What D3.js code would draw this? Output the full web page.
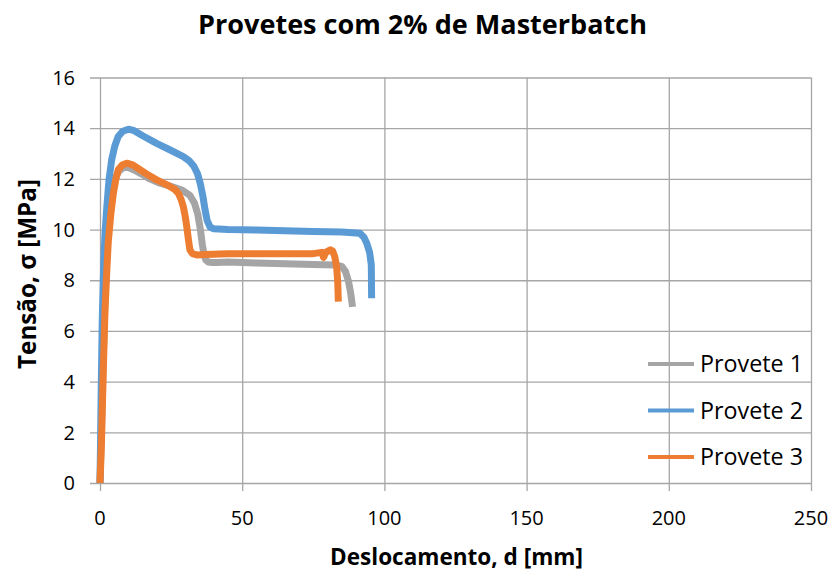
<!DOCTYPE html>
<html>
<head>
<meta charset="utf-8">
<script src="https://cdn.jsdelivr.net/npm/d3@7"></script>
<style>
  html, body { margin: 0; padding: 0; background: #fff; }
  svg text { font-family: "Open Sans", Lato, sans-serif; fill: #000; }
</style>
</head>
<body>
<svg id="chart" width="837" height="572"></svg>
<script>
// Tensile curves: displacement d [mm] vs stress σ [MPa]
const provete1X = [0, 0.6, 1.2, 1.8, 2.5, 3.2, 4.2, 5.3, 6.6, 8.2, 10, 12, 14.5, 17.5, 20.5, 23.5, 26.5, 29, 31.6, 33.2, 34.4, 35.3, 36, 36.6, 37.2, 38, 39.5, 41, 45, 55, 65, 75, 83, 85, 86.3, 87.4, 88.2, 88.8];
const provete1Y = [0, 2.5, 5.2, 7.4, 9.2, 10.6, 11.5, 12.0, 12.3, 12.45, 12.45, 12.35, 12.2, 12.0, 11.85, 11.75, 11.65, 11.55, 11.35, 11.05, 10.6, 10.0, 9.4, 9.0, 8.8, 8.72, 8.7, 8.7, 8.72, 8.68, 8.65, 8.62, 8.6, 8.55, 8.35, 7.95, 7.45, 6.95];

const provete2X = [0, 0.4, 0.8, 1.3, 1.8, 2.4, 3.2, 4.1, 5.2, 6.4, 8, 10, 12, 15, 19.9, 24.5, 29.3, 31.5, 33, 34.3, 35.3, 36.2, 36.9, 37.7, 38.7, 40, 45, 55, 65, 75, 85, 91.4, 92.8, 93.8, 94.8, 95.4, 95.5];
const provete2Y = [0, 3.5, 6.5, 8.6, 9.9, 10.9, 12.0, 12.75, 13.3, 13.67, 13.88, 13.96, 13.9, 13.7, 13.4, 13.15, 12.88, 12.7, 12.5, 12.2, 11.8, 11.3, 10.8, 10.35, 10.1, 10.03, 10.0, 9.98, 9.95, 9.92, 9.9, 9.85, 9.7, 9.46, 9.1, 8.6, 7.29];

const provete3X = [0, 0.5, 1.1, 1.76, 2.4, 2.9, 3.8, 4.7, 5.6, 6.4, 7.8, 9.4, 11.5, 14.1, 17, 19.9, 22.5, 24.6, 26.3, 27.5, 28.5, 29.3, 30, 30.5, 31.1, 31.6, 32.5, 34, 37, 45, 55, 65, 75, 78, 78.6, 79.4, 81, 81.8, 82.5, 83.2, 83.6, 83.8];
const provete3Y = [0, 1.5, 4.2, 6.8, 8.4, 9.5, 10.6, 11.44, 12.0, 12.36, 12.55, 12.62, 12.55, 12.36, 12.15, 11.96, 11.82, 11.7, 11.58, 11.44, 11.2, 10.9, 10.5, 10.12, 9.6, 9.2, 9.05, 9.0, 9.02, 9.05, 9.05, 9.05, 9.05, 9.1, 8.9, 9.1, 9.2, 9.15, 8.95, 8.54, 7.9, 7.16];

const seriesNames = ["Provete 1", "Provete 2", "Provete 3"];
const seriesColors = ["#a5a5a5", "#5b9bd5", "#ed7d31"];
const xTicks = [0, 50, 100, 150, 200, 250];
const yTicks = [0, 2, 4, 6, 8, 10, 12, 14, 16];

const chartTitle = "Provetes com 2% de Masterbatch";
const xTitle = "Deslocamento, d [mm]";
const yTitle = "Tensão, σ [MPa]";

const series = [
  { name: seriesNames[0], color: seriesColors[0], pts: provete1X.map((x, i) => [x, provete1Y[i]]) },
  { name: seriesNames[1], color: seriesColors[1], pts: provete2X.map((x, i) => [x, provete2Y[i]]) },
  { name: seriesNames[2], color: seriesColors[2], pts: provete3X.map((x, i) => [x, provete3Y[i]]) }
];

const svg = d3.select("#chart");
const plot = { left: 100, right: 811, top: 77.5, bottom: 483 };

const x = d3.scaleLinear().domain([0, 250]).range([plot.left, plot.right]);
const y = d3.scaleLinear().domain([0, 16]).range([plot.bottom, plot.top]);

const gridColor = "#a6a6a6";

// Scale a text's font size so that it spans the given width
function fitWidth(sel, width) {
  sel.each(function () {
    const fs = parseFloat(this.getAttribute("font-size"));
    const w = this.getComputedTextLength();
    if (w > 0) this.setAttribute("font-size", (fs * width / w).toFixed(2));
  });
}

// Horizontal gridlines (with tick stubs left of the axis)
svg.append("g")
  .attr("transform", `translate(${plot.left},0)`)
  .call(d3.axisLeft(y).tickValues(yTicks).tickSize(-(plot.right - plot.left)).tickFormat(""))
  .call(g => g.select(".domain").remove())
  .call(g => g.selectAll("line").attr("stroke", gridColor).attr("stroke-width", 1.3).attr("x1", -10).attr("x2", plot.right - plot.left));

// Vertical gridlines (with tick stubs below the axis)
svg.append("g")
  .attr("transform", `translate(0,${plot.bottom})`)
  .call(d3.axisBottom(x).tickValues(xTicks).tickSize(-(plot.bottom - plot.top)).tickFormat(""))
  .call(g => g.select(".domain").remove())
  .call(g => g.selectAll("line").attr("stroke", gridColor).attr("stroke-width", 1.3).attr("y1", 8).attr("y2", -(plot.bottom - plot.top)));

// Tick labels
svg.append("g").selectAll("text").data(yTicks).join("text")
  .attr("x", 75).attr("y", d => y(d)).attr("dy", "0.36em")
  .attr("text-anchor", "end").attr("font-size", 20).text(d => d);

svg.append("g").selectAll("text").data(xTicks).join("text")
  .attr("x", d => x(d)).attr("y", 525)
  .attr("text-anchor", "middle").attr("font-size", 20).text(d => d);

// Curves
const line = d3.line().x(d => x(d[0])).y(d => y(d[1])).curve(d3.curveLinear);
svg.append("g").selectAll("path").data(series).join("path")
  .attr("d", d => line(d.pts))
  .attr("fill", "none")
  .attr("stroke", d => d.color)
  .attr("stroke-width", 7)
  .attr("stroke-linejoin", "round")
  .attr("stroke-linecap", "butt");

// Titles
svg.append("text").attr("x", 422.5).attr("y", 34).attr("text-anchor", "middle")
  .attr("font-size", 25).attr("font-weight", "bold").text(chartTitle)
  .call(fitWidth, 449);
svg.append("text").attr("x", 456.5).attr("y", 565).attr("text-anchor", "middle")
  .attr("font-size", 21).attr("font-weight", "bold").text(xTitle)
  .call(fitWidth, 253);
svg.append("text").attr("transform", "translate(36,274) rotate(-90)").attr("text-anchor", "middle")
  .attr("font-size", 21).attr("font-weight", "bold").text(yTitle)
  .call(fitWidth, 190);

// Legend
const legend = svg.append("g").selectAll("g").data(series).join("g")
  .attr("transform", (d, i) => `translate(648,${364 + i * 46.5})`);
legend.append("line").attr("x1", 0).attr("x2", 46).attr("y1", 0).attr("y2", 0)
  .attr("stroke", d => d.color).attr("stroke-width", 4);
legend.append("text").attr("x", 52).attr("y", 0).attr("dy", "0.36em")
  .attr("font-size", 20).text(d => d.name)
  .call(fitWidth, 103);
</script>
</body>
</html>
